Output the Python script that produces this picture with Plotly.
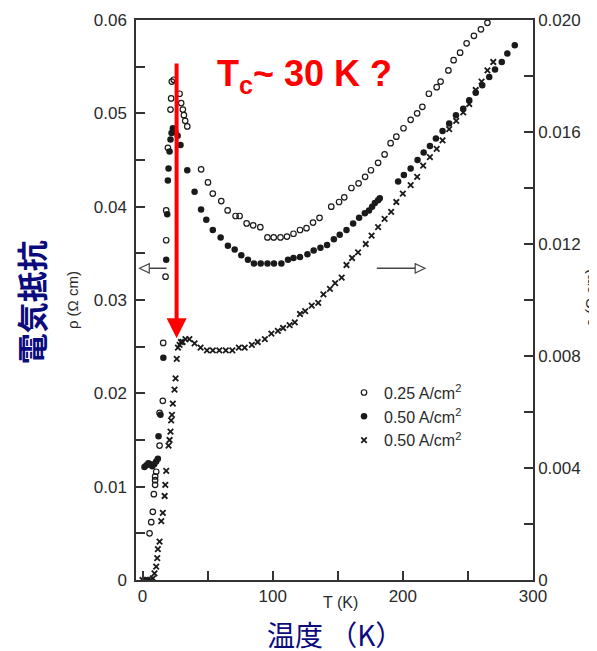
import plotly.graph_objects as go

# ---------------- data ----------------
# open circles, 0.25 A/cm2 (left axis)
T_open = [5.4, 6.7, 7.9, 8.7, 9.7, 9.7, 9.7, 10.5, 13.1, 13.1, 15.6, 15.9,
          17.7, 18.2, 18.2, 19.5, 21.5, 22.0, 22.5, 24.0, 28.5, 29.7, 31.0,
          31.8, 32.8, 34.4, 45.0, 50.3, 54.0, 60.5, 65.4, 71.5, 74.6, 80.0,
          85.0, 90.5, 96.0, 100.8, 106.0, 111.0, 116.0, 121.0, 126.0, 131.0,
          136.0, 145.0, 151.0, 155.0, 160.5, 166.0, 171.0, 175.5, 181.0,
          186.0, 190.6, 195.0, 200.5, 206.0, 211.0, 215.0, 220.0, 226.0,
          229.0, 235.0, 239.0, 244.0, 249.0, 254.6, 260.0, 265.0]
rho_open = [0.0050, 0.0062, 0.0073, 0.0092, 0.0102, 0.0107, 0.0111, 0.0116,
            0.0144, 0.0179, 0.0192, 0.0254, 0.0325, 0.0364, 0.0396, 0.0463,
            0.0504, 0.0516, 0.0534, 0.0536, 0.0521, 0.0511, 0.0504, 0.0498,
            0.0492, 0.0486, 0.0440, 0.0426, 0.0414, 0.0406, 0.0396, 0.0390,
            0.0390, 0.0382, 0.0380, 0.0378, 0.0367, 0.0367, 0.0367, 0.0368,
            0.0371, 0.0375, 0.0377, 0.0383, 0.0388, 0.0400, 0.0405, 0.0410,
            0.0420, 0.0425, 0.0432, 0.0439, 0.0447, 0.0456, 0.0468, 0.0475,
            0.0484, 0.0493, 0.0500, 0.0507, 0.0521, 0.0528, 0.0534, 0.0546,
            0.0557, 0.0565, 0.0575, 0.0583, 0.0590, 0.0597]

# filled dots, 0.50 A/cm2 (left axis)
T_fill = [1.5, 3.0, 4.5, 6.0, 7.5, 9.0, 10.5, 11.8, 12.3, 13.8, 16.0, 18.2,
          19.0, 19.5, 20.0, 20.8, 21.5, 22.3, 23.3, 25.2, 27.0, 29.2, 34.4,
          40.0, 45.0, 49.0, 54.0, 60.0, 65.6, 70.8, 75.9, 81.0, 85.6, 90.8,
          96.0, 101.0, 106.7, 111.8, 116.0, 121.0, 126.7, 131.5, 136.7,
          141.8, 147.0, 151.5, 156.7, 161.8, 166.4, 170.8, 174.0, 176.4,
          178.5, 181.0, 182.3, 196.4, 200.8, 206.0, 211.3, 216.0, 220.8,
          225.4, 230.5, 235.6, 240.8, 246.4, 251.0, 256.0, 261.0, 266.4,
          270.8, 276.0, 280.3, 286.0]
rho_fill = [0.0121, 0.0123, 0.0125, 0.0124, 0.0122, 0.0124, 0.0127, 0.0130,
            0.0154, 0.0177, 0.0238, 0.0343, 0.0392, 0.0428, 0.0441, 0.0459,
            0.0472, 0.0479, 0.0484, 0.0480, 0.0476, 0.0466, 0.0439, 0.0416,
            0.0397, 0.0386, 0.0375, 0.0367, 0.0358, 0.0354, 0.0348, 0.0343,
            0.0339, 0.0339, 0.0339, 0.0339, 0.0339, 0.0343, 0.0345, 0.0346,
            0.0349, 0.0353, 0.0356, 0.0359, 0.0365, 0.0370, 0.0375, 0.0382,
            0.0388, 0.0393, 0.0396, 0.0400, 0.0404, 0.0407, 0.0409, 0.0427,
            0.0434, 0.0441, 0.0450, 0.0458, 0.0465, 0.0473, 0.0481, 0.0489,
            0.0498, 0.0505, 0.0514, 0.0522, 0.0530, 0.0539, 0.0547, 0.0555,
            0.0564, 0.0573]

# crosses, 0.50 A/cm2 (right axis)
T_cross = [0.0, 2.0, 4.0, 6.0, 8.0, 9.2, 10.5, 11.3, 11.8, 13.1, 14.4, 15.6,
           17.0, 17.5, 18.2, 20.0, 20.8, 21.5, 22.0, 22.6, 23.3, 24.6, 25.4,
           26.3, 27.2, 28.5, 29.5, 30.8, 33.0, 36.0, 40.0, 44.6, 49.5, 54.0,
           59.0, 64.0, 69.0, 74.0, 78.5, 84.0, 88.5, 94.0, 99.0, 104.0, 108.0,
           113.0, 117.0, 121.0, 125.0, 130.0, 135.0, 139.0, 144.0, 148.0,
           153.0, 156.7, 161.0, 165.6, 171.5, 176.0, 181.0, 186.0, 191.0,
           195.0, 200.0, 206.0, 211.0, 215.6, 220.8, 226.0, 230.5, 235.6,
           241.0, 246.4, 251.0, 256.0, 260.5, 265.0, 269.5]
rho_cross = [0.0, 0.0, 0.0, 0.0, 0.00006, 0.00024, 0.00048, 0.00078, 0.0011,
             0.00137, 0.0021, 0.0024, 0.0030, 0.0034, 0.0039, 0.0048, 0.0050,
             0.0053, 0.0057, 0.0059, 0.0063, 0.0068, 0.0072, 0.0079, 0.0083,
             0.0084, 0.0085, 0.0085, 0.0086, 0.0086, 0.00845, 0.0083, 0.0082,
             0.0082, 0.0082, 0.0082, 0.0082, 0.0083, 0.0083, 0.0084, 0.0085,
             0.0086, 0.0088, 0.0089, 0.0090, 0.0091, 0.0092, 0.0095, 0.0096,
             0.0098, 0.0099, 0.0102, 0.0104, 0.0106, 0.0108, 0.01125, 0.0115,
             0.0117, 0.0120, 0.0123, 0.0126, 0.0129, 0.01315, 0.0135, 0.0138,
             0.0141, 0.0144, 0.0148, 0.0151, 0.0154, 0.0157, 0.0161, 0.0164,
             0.0167, 0.0170, 0.0175, 0.0178, 0.0182, 0.0185]

legend_names = ["0.25 A/cm<sup>2</sup>", "0.50 A/cm<sup>2</sup>",
                "0.50 A/cm<sup>2</sup>"]

x_ticks = [0, 50, 100, 150, 200, 250, 300]
x_ticktext = ["0", " ", "100", " ", "200", " ", "300"]
yl_ticks = [0, 0.005, 0.01, 0.015, 0.02, 0.025, 0.03, 0.035, 0.04, 0.045,
            0.05, 0.055, 0.06]
yl_ticktext = ["0", " ", "0.01", " ", "0.02", " ", "0.03", " ", "0.04", " ",
               "0.05", " ", "0.06"]
yr_ticks = [0, 0.002, 0.004, 0.006, 0.008, 0.010, 0.012, 0.014, 0.016,
            0.018, 0.020]
yr_ticktext = ["0", " ", "0.004", " ", "0.008", " ", "0.012", " ", "0.016",
               " ", "0.020"]

# annotation positions (data units)
TC_T = 26.2
TC_TOP = 0.0555
TC_TIP = 0.0259
ARROW_Y = 0.0334
LEFT_ARROW = (-2.3, 18.5)
RIGHT_ARROW = (180.0, 217.0)

INK = "#1a1a1a"
NAVY = "#0b0b7e"
SANS = "Liberation Sans, Arial, sans-serif"

fig = go.Figure()
fig.add_trace(go.Scatter(
    x=T_open, y=rho_open, mode="markers", name=legend_names[0],
    marker=dict(symbol="circle-open", size=5.5, color=INK,
                line=dict(width=1.2, color=INK))))
fig.add_trace(go.Scatter(
    x=T_fill, y=rho_fill, mode="markers", name=legend_names[1],
    marker=dict(symbol="circle", size=6.5, color=INK)))
fig.add_trace(go.Scatter(
    x=T_cross, y=rho_cross, mode="markers", name=legend_names[2], yaxis="y2",
    marker=dict(symbol="x-thin-open", size=5.5, color=INK,
                line=dict(width=1.8, color=INK))))

tickfont = dict(family=SANS, size=17, color="#2a2a2a")
axis_common = dict(ticks="inside", ticklen=9, tickwidth=1.5, tickcolor="#333",
                   showline=True, linecolor="#333", linewidth=1.5,
                   showgrid=False, zeroline=False, tickfont=tickfont,
                   automargin=False)

fig.update_layout(
    width=597, height=651,
    margin=dict(l=128, r=72, t=12, b=79),
    paper_bgcolor="white", plot_bgcolor="white",
    showlegend=True,
    legend=dict(x=0.524, y=0.365, xanchor="left", yanchor="top",
                bgcolor="rgba(0,0,0,0)", borderwidth=0,
                font=dict(family=SANS, size=16, color="#2a2a2a"),
                itemwidth=30, tracegroupgap=0),
    xaxis=dict(range=[-5, 300], tickvals=x_ticks, ticktext=x_ticktext,
               mirror=True, **axis_common),
    yaxis=dict(range=[0, 0.06], tickvals=yl_ticks, ticktext=yl_ticktext,
               ticklabelstandoff=4, **axis_common),
    yaxis2=dict(range=[0, 0.02], tickvals=yr_ticks, ticktext=yr_ticktext,
                overlaying="y", side="right", **axis_common),
)

label_font = dict(family=SANS, size=15, color="#2a2a2a")
annos = [
    dict(text="T (K)", x=0.514, y=-0.041,
         font=dict(family=SANS, size=16, color="#2a2a2a")),
    dict(text="ρ (Ω cm)", x=-0.161, y=0.5, textangle=-90, font=label_font),
    dict(text="ρ (Ω cm)", x=1.146, y=0.504, textangle=-90, font=label_font),
    dict(text="<b>電気抵抗</b>", x=-0.267, y=0.496, textangle=-90,
         font=dict(family="Noto Sans CJK JP", size=31, color=NAVY)),
    dict(text="温度 （K）", x=0.50, y=-0.0964,
         font=dict(family="Noto Sans CJK JP", size=28, color=NAVY)),
]
for a in annos:
    a.update(xref="paper", yref="paper", showarrow=False,
             xanchor="center", yanchor="middle")
annos += [
    dict(text="<b>T<sub>c</sub>~ 30 K ?</b>", x=0.199, y=0.945,
         xref="paper", yref="paper", xanchor="left", yanchor="top",
         showarrow=False,
         font=dict(family=SANS, size=36, color="#ff0000")),
    dict(text="", x=TC_T, y=TC_TIP, ax=TC_T, ay=TC_TOP, xref="x", yref="y",
         axref="x", ayref="y", showarrow=True, arrowhead=2, arrowsize=1,
         arrowwidth=4, arrowcolor="#ff0000"),
]
fig.update_layout(annotations=annos)

# small open-headed arrows (left -> left axis, right -> right axis)
head_len = 7.5
head_half = 0.0005
shapes = [
    dict(type="line", x0=LEFT_ARROW[0] + head_len, x1=LEFT_ARROW[1],
         y0=ARROW_Y, y1=ARROW_Y, xref="x", yref="y",
         line=dict(color="#444", width=1.5)),
    dict(type="path", xref="x", yref="y",
         path=f"M {LEFT_ARROW[0]},{ARROW_Y} L {LEFT_ARROW[0]+head_len},{ARROW_Y+head_half} "
              f"L {LEFT_ARROW[0]+head_len},{ARROW_Y-head_half} Z",
         fillcolor="white", line=dict(color="#444", width=1.2)),
    dict(type="line", x0=RIGHT_ARROW[0], x1=RIGHT_ARROW[1] - head_len,
         y0=ARROW_Y, y1=ARROW_Y, xref="x", yref="y",
         line=dict(color="#444", width=1.5)),
    dict(type="path", xref="x", yref="y",
         path=f"M {RIGHT_ARROW[1]},{ARROW_Y} L {RIGHT_ARROW[1]-head_len},{ARROW_Y+head_half} "
              f"L {RIGHT_ARROW[1]-head_len},{ARROW_Y-head_half} Z",
         fillcolor="white", line=dict(color="#444", width=1.2)),
]
fig.update_layout(shapes=shapes)

fig.write_html("out.html")
